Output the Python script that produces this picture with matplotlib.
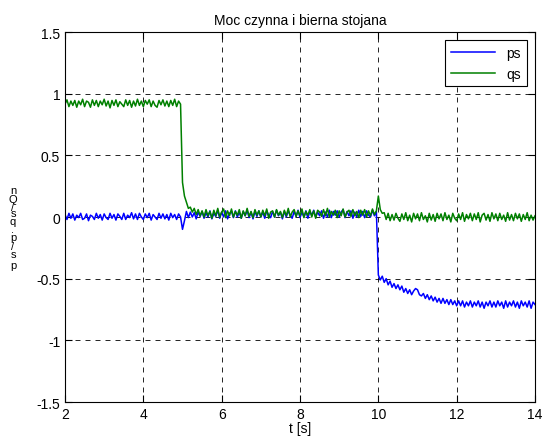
import numpy as np
import matplotlib.pyplot as plt

plt.rcParams['font.family'] = ['Liberation Sans', 'DejaVu Sans']

# time grid of the simulation, 0.05 s step
t = np.linspace(2.0, 14.0, 241)

# stator active power ps [p.u.]
ps = [
    # 2.00 - 4.95
    0.02, -0.02, 0.03, -0.01, 0.025, -0.025, 0.015, -0.005, 0.03, -0.02,
    -0.01, 0.025, -0.03, 0.015, 0.005, -0.02, 0.03, -0.01, 0.02, -0.025,
    0.025, -0.005, -0.02, 0.03, -0.01, 0.02, -0.025, 0.025, 0.005, -0.02,
    0.03, -0.02, 0.015, -0.005, 0.035, -0.015, 0.025, -0.02, 0.03, 0.0,
    -0.02, 0.025, -0.005, 0.03, -0.025, 0.02, 0.0, -0.02, 0.03, -0.01,
    0.025, -0.015, 0.02, -0.025, 0.03, -0.005, 0.02, -0.02, 0.025, 0.0,
    # 5.00 - 9.95
    -0.10, -0.03, 0.045, -0.005, 0.04, 0.0, 0.035, -0.015, 0.04, 0.005,
    0.045, -0.01, 0.035, 0.0, 0.05, -0.015, 0.03, 0.005, 0.055, -0.01,
    0.04, 0.0, 0.05, -0.015, 0.03, 0.045, -0.005, 0.05, 0.0, 0.04,
    -0.01, 0.045, 0.01, 0.055, -0.005, 0.04, -0.015, 0.045, 0.005, 0.05,
    0.0, 0.04, -0.01, 0.05, 0.015, -0.005, 0.045, 0.0, 0.055, 0.01,
    0.04, -0.015, 0.045, 0.0, 0.05, 0.015, -0.01, 0.045, 0.005, 0.055,
    -0.005, 0.04, 0.0, 0.05, -0.01, 0.045, 0.015, 0.055, 0.0, 0.04,
    0.01, 0.05, -0.01, 0.04, 0.0, 0.055, -0.005, 0.045, 0.015, 0.05,
    0.0, 0.04, 0.06, -0.005, 0.045, 0.01, 0.05, -0.01, 0.04, 0.0,
    0.055, 0.005, 0.045, -0.005, 0.05, 0.015, 0.0, 0.055, 0.01, 0.045,
    # 10.00 - 14.00
    -0.47, -0.51, -0.48, -0.53, -0.50, -0.55, -0.52, -0.57, -0.54, -0.58,
    -0.55, -0.59, -0.56, -0.61, -0.58, -0.62, -0.59, -0.63, -0.60, -0.58,
    -0.59, -0.63, -0.64, -0.62, -0.66, -0.63, -0.67, -0.64, -0.68, -0.65,
    -0.69, -0.66, -0.70, -0.66, -0.70, -0.67, -0.71, -0.67, -0.71, -0.68,
    -0.72, -0.68, -0.72, -0.68, -0.73, -0.69, -0.72, -0.68, -0.73, -0.69,
    -0.72, -0.68, -0.73, -0.69, -0.74, -0.69, -0.72, -0.68, -0.73, -0.69,
    -0.73, -0.68, -0.72, -0.69, -0.74, -0.68, -0.73, -0.69, -0.72, -0.68,
    -0.73, -0.69, -0.74, -0.68, -0.72, -0.69, -0.73, -0.68, -0.74, -0.69,
    -0.71,
]

# stator reactive power qs [p.u.]
qs = [
    # 2.00 - 4.95
    0.915, 0.95, 0.895, 0.94, 0.905, 0.945, 0.89, 0.94, 0.91, 0.955,
    0.895, 0.94, 0.93, 0.89, 0.95, 0.905, 0.945, 0.895, 0.94, 0.91,
    0.955, 0.9, 0.94, 0.885, 0.945, 0.905, 0.95, 0.895, 0.935, 0.915,
    0.895, 0.95, 0.905, 0.945, 0.89, 0.94, 0.9, 0.955, 0.905, 0.94,
    0.895, 0.945, 0.915, 0.95, 0.895, 0.94, 0.905, 0.89, 0.945, 0.91,
    0.95, 0.9, 0.94, 0.895, 0.945, 0.905, 0.955, 0.895, 0.94, 0.915,
    # 5.00 - 9.95
    0.28, 0.17, 0.12, 0.07, 0.08, 0.04, 0.07, 0.02, 0.06, 0.01,
    0.05, 0.0, 0.06, 0.01, 0.045, -0.01, 0.055, 0.01, 0.07, 0.0,
    0.04, 0.065, -0.005, 0.05, 0.01, 0.065, 0.0, 0.045, 0.015, 0.06,
    -0.01, 0.05, 0.01, 0.07, 0.005, 0.045, -0.005, 0.06, 0.015, 0.05,
    0.0, 0.055, 0.01, 0.065, -0.01, 0.04, 0.05, 0.0, 0.06, 0.015,
    0.045, -0.005, 0.055, 0.01, 0.07, 0.0, 0.04, 0.06, 0.005, 0.05,
    0.01, 0.065, -0.005, 0.045, 0.015, 0.06, 0.0, 0.05, -0.01, 0.055,
    0.04, 0.005, 0.06, 0.01, 0.07, 0.0, 0.045, 0.015, 0.055, -0.005,
    0.05, 0.01, 0.065, 0.0, 0.04, 0.055, 0.005, 0.06, 0.01, 0.045,
    -0.005, 0.055, 0.015, 0.06, 0.0, 0.05, 0.01, 0.065, 0.02, 0.05,
    # 10.00 - 14.00
    0.17, 0.06, 0.03, 0.035, -0.02, 0.03, -0.03, 0.02, -0.025, 0.03,
    -0.01, -0.035, 0.025, -0.02, 0.035, -0.03, 0.015, -0.04, 0.03, -0.015,
    0.025, -0.03, 0.035, -0.02, 0.01, -0.04, 0.03, -0.025, 0.02, -0.035,
    0.03, -0.015, 0.025, -0.03, 0.035, -0.02, 0.015, -0.04, 0.03, -0.01,
    -0.03, 0.025, -0.02, 0.035, -0.035, 0.02, -0.015, 0.03, -0.03, 0.025,
    -0.02, 0.035, -0.04, 0.015, 0.03, -0.025, 0.02, -0.035, 0.035, -0.015,
    0.025, -0.03, 0.03, -0.02, 0.015, -0.035, 0.035, -0.025, 0.02, -0.03,
    0.03, -0.015, 0.025, -0.035, 0.02, -0.02, 0.035, -0.03, 0.015, -0.025,
    0.01,
]

xticks = [2, 4, 6, 8, 10, 12, 14]
yticks = [-1.5, -1, -0.5, 0, 0.5, 1, 1.5]
ytick_labels = ['-1.5', '-1', '-0.5', '0', '0.5', '1', '1.5']

fig = plt.figure(figsize=(5.43, 4.39), dpi=100)
ax = fig.add_axes([0.1197, 0.082, 0.8656, 0.8428])

ax.plot(t, ps, color='blue', linewidth=1.1, label='ps')
ax.plot(t, qs, color='green', linewidth=1.1, label='qs')

ax.set_xlim(2, 14)
ax.set_ylim(-1.5, 1.5)
ax.set_xticks(xticks)
ax.set_yticks(yticks)
ax.set_yticklabels(ytick_labels)
ax.tick_params(direction='in', length=5, width=0.8, labelsize=10,
               top=True, right=True, colors='black')
ax.grid(True, color='black', linestyle=(0, (6, 6)), linewidth=0.6)
for s in ax.spines.values():
    s.set_linewidth(0.8)

ax.set_title('Moc czynna i bierna stojana', fontsize=10, pad=6)
ax.set_xlabel('t [s]', fontsize=10, labelpad=0)

# stacked y-axis label
ylab = [('n', 191), ('Q', 200), ('/', 208), ('s', 214), ('q', 222),
        ('.', 230), ('p', 238), ('/', 247), ('s', 255), ('p', 266)]
for ch, ypx in ylab:
    fig.text(13 / 543, 1 - ypx / 439, ch, fontsize=8, ha='center', va='center')

leg = ax.legend(loc='upper right', fontsize=10, fancybox=False, framealpha=1,
                edgecolor='black', handlelength=3.2, borderaxespad=0.6)
leg.get_frame().set_linewidth(0.8)

fig.savefig('out.png', dpi=100)
